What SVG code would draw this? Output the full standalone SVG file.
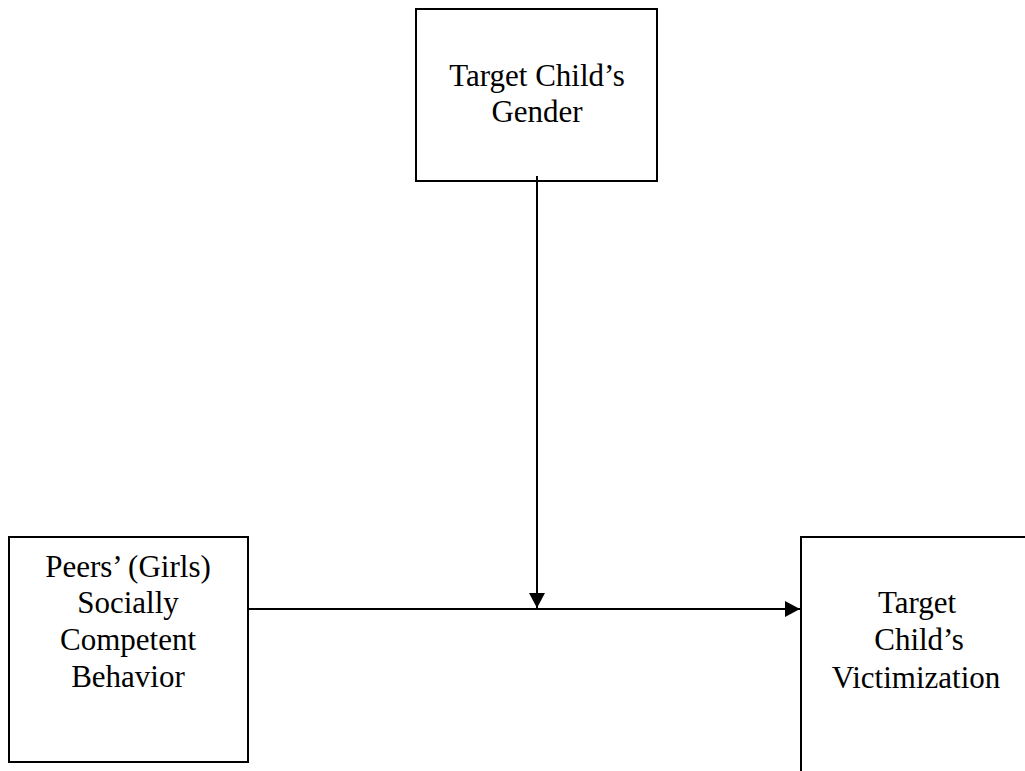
<svg xmlns="http://www.w3.org/2000/svg" width="1025" height="771" viewBox="0 0 1025 771">
<style>
.box{fill:#fff;stroke:#000;stroke-width:2}
.lbl{font-family:"Liberation Serif","Times New Roman",serif;font-size:31px;fill:#000;text-anchor:middle}
.con{stroke:#000;stroke-width:2;fill:none}
</style>
<defs>
<marker id="arr" markerUnits="userSpaceOnUse" markerWidth="16" markerHeight="16" refX="15" refY="8" orient="auto">
<path d="M0,0 L15,8 L0,16 Z" fill="#000"/>
</marker>
</defs>
<rect width="1025" height="771" fill="#fff"/>
<g id="gender">
<rect class="box" x="416" y="9" width="241" height="172"/>
<text class="lbl" x="537" y="86">Target Child’s</text>
<text class="lbl" x="537" y="122">Gender</text>
</g>
<g id="peers">
<rect class="box" x="9" y="537" width="239" height="225"/>
<text class="lbl" x="128" y="577">Peers’ (Girls)</text>
<text class="lbl" x="128" y="613">Socially</text>
<text class="lbl" x="128" y="650">Competent</text>
<text class="lbl" x="128" y="687">Behavior</text>
</g>
<g id="victimization">
<rect class="box" x="801" y="537" width="240" height="250"/>
<text class="lbl" x="917" y="613">Target</text>
<text class="lbl" x="919" y="650">Child’s</text>
<text class="lbl" x="916" y="688">Victimization</text>
</g>
<g id="connectors">
<line class="con" x1="248" y1="609" x2="800" y2="609" marker-end="url(#arr)"/>
<line class="con" x1="537" y1="176" x2="537" y2="608" marker-end="url(#arr)"/>
</g>
</svg>
